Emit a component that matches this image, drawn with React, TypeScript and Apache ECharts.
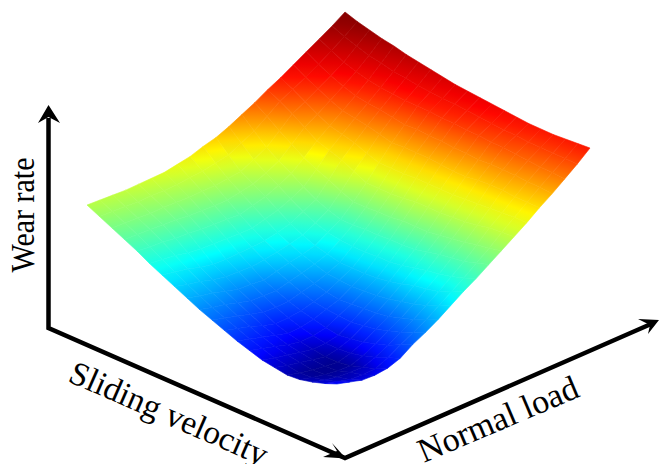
import React, { useEffect, useRef } from "react";
import * as echarts from "echarts";

// Wear rate: one row per normal-load step, one column per sliding-velocity step.
const load00 = [14,10,7,5,5,8,11,16,21,27,33,39,46,53,60,67,75,82,89,96,103];
const load05 = [12,8,5,3,3,6,9,14,19,25,31,37,44,51,59,67,75,83,90,97,104];
const load10 = [10,6,4,2,2,5,8,12,17,23,29,36,43,50,58,67,76,84,91,98,105];
const load15 = [11,7,5,2,2,4,7,10,15,20,27,34,41,48,56,66,76,85,92,99,106];
const load20 = [14,9,6,3,2,3,6,9,13,18,25,32,39,47,55,66,77,86,94,101,108];
const load25 = [20,16,12,9,7,7,8,11,15,20,26,33,40,48,56,67,77,86,95,102,110];
const load30 = [30,25,20,17,14,13,12,15,19,23,28,34,40,49,58,68,78,87,96,104,112];
const load35 = [38,33,29,26,23,22,21,23,25,28,33,39,45,52,60,69,79,88,98,107,116];
const load40 = [47,42,38,35,32,31,31,31,31,34,38,44,50,56,63,71,80,90,100,110,120];
const load45 = [57,52,48,45,43,41,40,40,40,42,44,49,54,60,67,76,85,94,103,114,126];
const load50 = [67,62,58,56,55,52,50,49,49,50,51,55,59,65,72,81,90,98,106,118,131];
const load55 = [76,72,69,67,66,64,62,61,62,62,63,65,68,73,80,88,97,105,114,126,138];
const load60 = [86,83,80,79,78,76,74,74,75,75,76,76,77,82,88,96,105,113,122,134,146];
const load65 = [96,94,93,91,90,89,88,89,90,89,90,90,91,97,104,110,117,126,135,145,154];
const load70 = [106,106,106,104,103,103,103,104,105,104,104,105,106,113,120,125,130,139,148,156,163];
const load75 = [116,117,117,117,117,117,117,118,119,120,120,121,122,127,133,137,141,148,156,164,171];
const load80 = [127,128,129,131,132,132,131,132,134,136,137,138,138,142,146,149,152,158,165,172,180];
const load85 = [137,139,140,142,143,144,144,146,147,149,150,152,152,155,158,160,163,168,174,181,189];
const load90 = [148,150,151,153,155,157,158,160,161,163,164,166,167,168,170,172,175,179,184,191,198];
const load95 = [159,160,161,162,163,165,166,168,170,172,174,175,177,179,182,184,188,191,196,201,207];
const load100 = [171,171,171,171,172,173,175,177,179,181,183,185,188,191,194,197,201,204,208,212,217];

const wearGrid = [
  load00, load05, load10, load15, load20, load25, load30, load35, load40, load45, load50,
  load55, load60, load65, load70, load75, load80, load85, load90, load95, load100,
];

const wearStops = [0, 12, 61, 120, 175, 217];
const jetStops = [[0, 0, 122], [0, 0, 255], [0, 255, 255], [255, 255, 0], [255, 0, 0], [122, 0, 0]];

const axisLabels = { wear: "Wear rate", velocity: "Sliding velocity", load: "Normal load" };

const N = wearGrid.length - 1;

function project(i: number, j: number) {
  const u = i / N;
  const v = j / N;
  const sx = 337 * (1 - u) * (1 - v) + 87 * u * (1 - v) + 590 * (1 - u) * v + 345 * u * v;
  const sy = 398 - 90 * u - 79 * v - wearGrid[j][i];
  return [sx, sy];
}

function jet(w: number) {
  let k = 0;
  while (k < wearStops.length - 2 && w > wearStops[k + 1]) k++;
  const t = Math.max(0, Math.min(1, (w - wearStops[k]) / (wearStops[k + 1] - wearStops[k])));
  const c = jetStops[k].map((a, n) => Math.round(a + (jetStops[k + 1][n] - a) * t));
  return `rgb(${c[0]},${c[1]},${c[2]})`;
}

const cells: number[][] = [];
for (let sum = 2 * N - 2; sum >= 0; sum--) {
  for (let i = Math.min(sum, N - 1); i >= 0 && sum - i < N; i--) {
    const j = sum - i;
    const c = project(i, j);
    cells.push([c[0], c[1], i, j]);
  }
}

// Colour of one cell: a gradient along the steepest direction of wear across it.
function cellFill(points: number[][], values: number[]) {
  const mean = values.reduce((s, a) => s + a, 0) / 4;
  const cx = points.reduce((s, p) => s + p[0], 0) / 4;
  const cy = points.reduce((s, p) => s + p[1], 0) / 4;
  const ax = (points[1][0] + points[2][0] - points[0][0] - points[3][0]) / 2;
  const ay = (points[1][1] + points[2][1] - points[0][1] - points[3][1]) / 2;
  const bx = (points[2][0] + points[3][0] - points[0][0] - points[1][0]) / 2;
  const by = (points[2][1] + points[3][1] - points[0][1] - points[1][1]) / 2;
  const da = (values[1] + values[2] - values[0] - values[3]) / 2;
  const db = (values[2] + values[3] - values[0] - values[1]) / 2;
  const det = ax * by - ay * bx;
  if (Math.abs(det) < 1e-3) return jet(mean);
  const gx = (da * by - db * ay) / det;
  const gy = (db * ax - da * bx) / det;
  const mag = Math.hypot(gx, gy);
  if (mag < 1e-4) return jet(mean);
  const reach = 20;
  const nx = gx / mag;
  const ny = gy / mag;
  return new echarts.graphic.LinearGradient(
    cx - nx * reach,
    cy - ny * reach,
    cx + nx * reach,
    cy + ny * reach,
    [
      { offset: 0, color: jet(mean - mag * reach) },
      { offset: 0.5, color: jet(mean) },
      { offset: 1, color: jet(mean + mag * reach) },
    ],
    true
  );
}

const FONT = '"Liberation Serif", "Times New Roman", serif';

export default function App() {
  const ref = useRef<HTMLDivElement>(null);
  useEffect(() => {
    document.body.style.margin = "0";
    const chart = echarts.init(ref.current!, undefined, { renderer: "svg", width: 659, height: 464 });
    chart.setOption({
      animation: false,
      backgroundColor: "#ffffff",
      grid: { left: 0, right: 0, top: 0, bottom: 0 },
      xAxis: { type: "value", min: 0, max: 659, show: false },
      yAxis: { type: "value", min: 0, max: 464, inverse: true, show: false },
      series: [
        {
          type: "custom",
          coordinateSystem: "cartesian2d",
          clip: false,
          data: cells,
          encode: { x: 0, y: 1 },
          renderItem: (_: unknown, api: any) => {
            const i = api.value(2);
            const j = api.value(3);
            const corners = [[i, j], [i + 1, j], [i + 1, j + 1], [i, j + 1]];
            const points = corners.map(([a, b]) => api.coord(project(a, b)));
            const values = corners.map(([a, b]) => wearGrid[b][a]);
            const fill = cellFill(points, values);
            return {
              type: "polygon",
              shape: { points },
              style: { fill, stroke: fill, lineWidth: 0.6 },
            };
          },
        },
      ],
      graphic: [
        {
          type: "polyline",
          shape: { points: [[48.5, 118], [48.5, 328], [345, 458], [651, 324]] },
          style: { stroke: "#000", lineWidth: 4.5, fill: "none", lineJoin: "miter" },
          z: 10,
        },
        {
          type: "polygon",
          shape: { points: [[48.5, 105], [60, 123], [48.5, 117], [38, 123]] },
          style: { fill: "#000" },
          z: 10,
        },
        {
          type: "polygon",
          shape: { points: [[346, 458.5], [323, 457], [337, 451], [332, 443]] },
          style: { fill: "#000" },
          z: 10,
        },
        {
          type: "polygon",
          shape: { points: [[659, 320], [638, 319], [650, 325], [648, 334]] },
          style: { fill: "#000" },
          z: 10,
        },
        {
          type: "text",
          x: 22,
          y: 215,
          rotation: Math.PI / 2,
          scaleY: 1.15,
          style: { text: axisLabels.wear, font: `30px ${FONT}`, fill: "#000", textAlign: "center", textVerticalAlign: "middle" },
          z: 10,
        },
        {
          type: "text",
          x: 169,
          y: 413,
          rotation: -(23.6 * Math.PI) / 180,
          style: { text: axisLabels.velocity, font: `33.5px ${FONT}`, fill: "#000", textAlign: "center", textVerticalAlign: "middle" },
          z: 10,
        },
        {
          type: "text",
          x: 498,
          y: 419,
          rotation: (23 * Math.PI) / 180,
          style: { text: axisLabels.load, font: `34px ${FONT}`, fill: "#000", textAlign: "center", textVerticalAlign: "middle" },
          z: 10,
        },
      ],
    });
    return () => chart.dispose();
  }, []);
  return <div ref={ref} style={{ width: 659, height: 464, overflow: "hidden" }} />;
}
